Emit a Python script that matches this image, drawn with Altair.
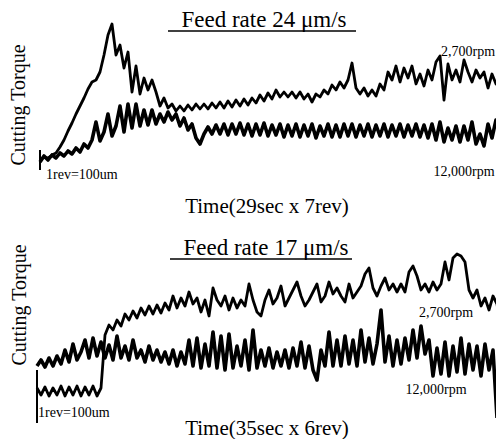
import altair as alt
import pandas as pd

FONT = "Liberation Serif"

# ---- data (torque in arbitrary units, sample index = time) ----
top_2700 = [30, 33, 32, 35, 37, 43, 50, 59, 67, 76,
            84, 92, 101, 108, 110, 118, 135, 155, 166, 135,
            145, 122, 138, 98, 124, 96, 112, 100, 110, 98,
            84, 92, 82, 86, 79, 84, 79, 85, 80, 86,
            81, 86, 81, 87, 82, 88, 82, 89, 83, 90,
            84, 91, 85, 92, 87, 95, 89, 97, 91, 100,
            93, 98, 93, 98, 92, 98, 91, 96, 88, 96,
            93, 100, 96, 105, 100, 108, 102, 110, 127, 102,
            96, 102, 94, 100, 94, 106, 100, 118, 110, 124,
            108, 122, 112, 124, 106, 116, 104, 120, 110, 128,
            134, 90, 126, 110, 120, 108, 130, 118, 108, 120,
            112, 118, 102, 116, 106, 112, 90]
top_12000 = [28, 34, 30, 35, 32, 37, 34, 39, 36, 42,
             38, 46, 42, 50, 68, 49, 58, 76, 54, 64,
             84, 58, 86, 62, 86, 64, 80, 65, 80, 66,
             76, 68, 78, 70, 76, 64, 72, 60, 66, 52,
             46, 56, 63, 56, 65, 56, 66, 55, 66, 56,
             67, 55, 66, 54, 66, 55, 67, 54, 65, 55,
             66, 53, 65, 54, 66, 53, 65, 54, 66, 52,
             64, 54, 66, 53, 65, 53, 66, 54, 66, 53,
             65, 54, 66, 53, 65, 54, 66, 53, 65, 54,
             66, 53, 65, 54, 66, 53, 65, 52, 66, 50,
             68, 48, 62, 50, 64, 48, 64, 50, 68, 46,
             56, 44, 66, 52, 70, 56, 66]
bot_2700 = [42, 35, 43, 34, 42, 35, 44, 34, 43, 35,
            44, 34, 43, 35, 44, 34, 42, 95, 105, 100,
            110, 104, 116, 110, 119, 112, 122, 115, 124, 116,
            125, 117, 127, 120, 134, 122, 132, 124, 138, 126,
            132, 118, 130, 114, 142, 130, 124, 134, 120, 132,
            122, 130, 124, 146, 130, 118, 114, 130, 140, 126,
            132, 144, 124, 132, 140, 148, 134, 124, 130, 138,
            146, 128, 134, 148, 136, 142, 134, 128, 146, 132,
            138, 144, 156, 162, 142, 134, 144, 152, 140, 146,
            138, 146, 138, 158, 164, 154, 140, 146, 138, 148,
            140, 146, 168, 150, 172, 176, 174, 168, 140, 132,
            140, 124, 132, 120, 134, 126, 100]
bot_12000 = [64, 70, 63, 72, 64, 74, 66, 80, 68, 86,
             70, 78, 90, 72, 92, 74, 88, 72, 85, 70,
             94, 72, 84, 70, 90, 72, 80, 68, 84, 70,
             80, 68, 78, 66, 80, 64, 78, 66, 90, 64,
             92, 62, 86, 64, 98, 62, 94, 60, 96, 62,
             84, 64, 90, 60, 100, 62, 80, 64, 82, 62,
             78, 64, 80, 62, 82, 64, 88, 62, 84, 60,
             50, 80, 64, 98, 64, 90, 64, 94, 66, 90,
             64, 100, 68, 92, 66, 86, 120, 68, 94, 64,
             90, 66, 92, 70, 100, 72, 104, 76, 90, 54,
             82, 56, 88, 54, 84, 58, 92, 56, 86, 60,
             84, 54, 86, 60, 80, 12]
top_bracket = [20, 40]
bot_bracket = [7, 60]

panels = [
    {"title": "Feed rate 24 \u03bcm/s", "xlabel": "Time(29sec x 7rev)",
     "a": top_2700, "b": top_12000, "br": top_bracket,
     "xr": [32, 496], "yr": [182, 12]},
    {"title": "Feed rate 17 \u03bcm/s", "xlabel": "Time(35sec x 6rev)",
     "a": bot_2700, "b": bot_12000, "br": bot_bracket,
     "xr": [29, 493], "yr": [422, 252]},
]

layers = []
for p in panels:
    xs = alt.Scale(domain=[0, 116], range=p["xr"], nice=False, zero=False)
    ys = alt.Scale(domain=[0, 170], range=p["yr"], nice=False, zero=False)
    for vals, w in ((p["a"], 2.8), (p["b"], 3.6)):
        df = pd.DataFrame({"i": list(range(len(vals))), "torque": vals})
        layers.append(
            alt.Chart(df).mark_line(color="black", strokeWidth=w, strokeJoin="round")
            .encode(x=alt.X("i:Q", scale=xs, axis=None),
                    y=alt.Y("torque:Q", scale=ys, axis=None))
        )
    bdf = pd.DataFrame({"i": [0], "lo": [p["br"][0]], "hi": [p["br"][1]]})
    layers.append(
        alt.Chart(bdf).mark_rule(color="black", strokeWidth=2)
        .encode(x=alt.X("i:Q", scale=xs, axis=None),
                y=alt.Y("lo:Q", scale=ys, axis=None), y2="hi:Q")
    )


def txt(s, x, y, size, angle=0, align="center", baseline="alphabetic"):
    return alt.Chart(pd.DataFrame({"t": [s]})).mark_text(
        font=FONT, fontSize=size, color="black", align=align, baseline=baseline,
        angle=angle
    ).encode(text="t:N", x=alt.value(x), y=alt.value(y))


def uline(x1, x2, y):
    return alt.Chart(pd.DataFrame({"t": [0]})).mark_rule(color="black", strokeWidth=1.3).encode(
        x=alt.value(x1), x2=alt.value(x2), y=alt.value(y))


texts = [
    txt(panels[0]["title"], 256, 19, 23), uline(160, 348, 23),
    txt(panels[0]["xlabel"], 259, 205, 21),
    txt("Cutting Torque", 11, 97, 20, angle=270, baseline="middle"),
    txt("2,700rpm", 460, 48, 14),
    txt("12,000rpm", 456, 168, 14),
    txt("1rev=100um", 38, 171, 14, align="left"),
    txt(panels[1]["title"], 258, 247, 23), uline(162, 344, 251),
    txt(panels[1]["xlabel"], 259, 431, 21, baseline="bottom"),
    txt("Cutting Torque", 12, 297, 20, angle=270, baseline="middle"),
    txt("2,700rpm", 438, 309, 14),
    txt("12,000rpm", 428, 386, 14),
    txt("1rev=100um", 30, 409, 14, align="left"),
]

chart = alt.layer(*layers, *texts).resolve_scale(x="independent", y="independent").properties(
    width=488, height=431, autosize=alt.AutoSizeParams(type="none"), padding=0
).configure_view(stroke=None)

chart.save("out.html", embed_options={"renderer": "svg", "actions": False})
